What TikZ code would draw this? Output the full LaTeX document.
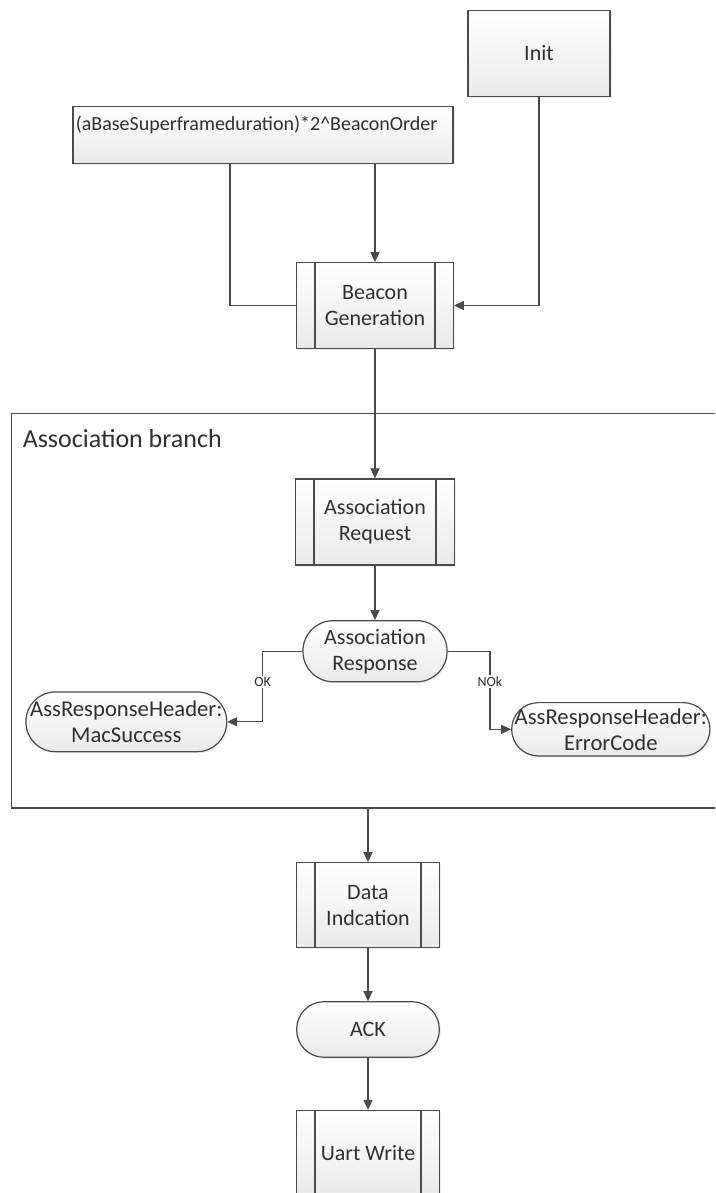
\documentclass[tikz,border=0pt]{standalone}
\usepackage{fontspec}
\setmainfont{Carlito}
\usetikzlibrary{arrows.meta,shadows,calc}
\definecolor{edge}{HTML}{4A4A4A}
\definecolor{ink}{HTML}{303030}
\definecolor{fillbot}{HTML}{EAEAEA}

\begin{document}
\begin{tikzpicture}[x=0.75pt,y=-0.75pt,
  box/.style={draw=edge, line width=0.9pt, top color=white, bottom color=fillbot,
    text=ink, align=center, inner sep=0pt,
    font=\fontsize{16.5}{19.5}\selectfont,
    drop shadow={opacity=0.10, shadow xshift=1.2pt, shadow yshift=-1.2pt}},
  proc/.style={box, path picture={
    \draw[edge, line width=0.9pt]
      ([xshift=13.7pt]path picture bounding box.north west) -- ([xshift=13.7pt]path picture bounding box.south west)
      ([xshift=-13.7pt]path picture bounding box.north east) -- ([xshift=-13.7pt]path picture bounding box.south east);}},
  term/.style={box, rectangle, rounded corners=20pt},
  link/.style={draw=edge, line width=0.9pt},
  arr/.style={link, -{Triangle[length=7.5pt,width=6.8pt]}},
  tag/.style={fill=white, text=ink, inner sep=1pt, font=\fontsize{10.5}{12}\selectfont},
]
\useasboundingbox (0,0) rectangle (715,1193);
\clip (0,0) rectangle (715,1193);

% association branch frame (open to the right)
\draw[link] (720,413.3) -- (11.7,413.3) -- (11.7,808) -- (720,808);
\node[anchor=west, text=ink, inner sep=0pt, font=\fontsize{19.5}{22}\selectfont]
  (branchtitle) at (22.5,439) {Association branch};

% top inputs
\node[box, minimum width=106.5pt, minimum height=64.2pt] (init) at (539,53.5) {Init};
\node[box, minimum width=285pt, minimum height=42.6pt] (formula) at (263,135.1) {};
\node[anchor=west, text=ink, inner sep=0pt, font=\fontsize{15}{17}\selectfont]
  (formulatext) at (75.5,125) {(aBaseSuperframeduration)*2\^{}BeaconOrder};

% main flow
\node[proc, minimum width=117.5pt, minimum height=64.2pt] (beacon) at (375,305.5) {Beacon\\Generation};
\node[proc, minimum width=119pt, minimum height=64.5pt] (assreq) at (375,522) {Association\\Request};
\node[term, rounded corners=22.5pt, minimum width=108pt, minimum height=45.8pt] (assresp) at (375,651.2) {Association\\Response};
\node[term, rounded corners=22pt, minimum width=150.5pt, minimum height=44.8pt, font=\fontsize{17}{19.5}\selectfont]
  (mac) at (126.3,721.8) {AssResponseHeader:\\MacSuccess};
\node[term, minimum width=148.7pt, minimum height=40pt, font=\fontsize{17}{19.5}\selectfont]
  (err) at (610.8,729.3) {AssResponseHeader:\\ErrorCode};
\node[proc, minimum width=107pt, minimum height=63.8pt] (data) at (368,905.2) {Data\\Indcation};
\node[term, rounded corners=20.5pt, minimum width=107pt, minimum height=41.7pt] (ack) at (368,1029.5) {ACK};
\node[proc, minimum width=107pt, minimum height=64pt] (uart) at (368,1153.2) {Uart Write};

% helper points
\coordinate (fleft) at (230,163.5);
\coordinate (okx) at (262.7,690);
\coordinate (nokx) at (490,690);
\coordinate (exit) at (368,808);

% connectors
\draw[arr] (beacon.north |- formula.south) -- (beacon.north);
\draw[link] (fleft) |- (beacon.west);
\draw[arr] (init.south) |- (beacon.east);
\draw[arr] (beacon.south) -- (assreq.north);
\draw[arr] (assreq.south) -- (assresp.north);
\draw[arr] (assresp.west) -| (okx) |- (mac.east);
\draw[arr] (assresp.east) -| (nokx) |- (err.west);
\node[tag] (oklabel) at (262.7,681.7) {OK};
\node[tag] (noklabel) at (490,681.7) {NOk};
\draw[arr] (exit) -- (data.north);
\draw[arr] (data.south) -- (ack.north);
\draw[arr] (ack.south) -- (uart.north);
\end{tikzpicture}
\end{document}
